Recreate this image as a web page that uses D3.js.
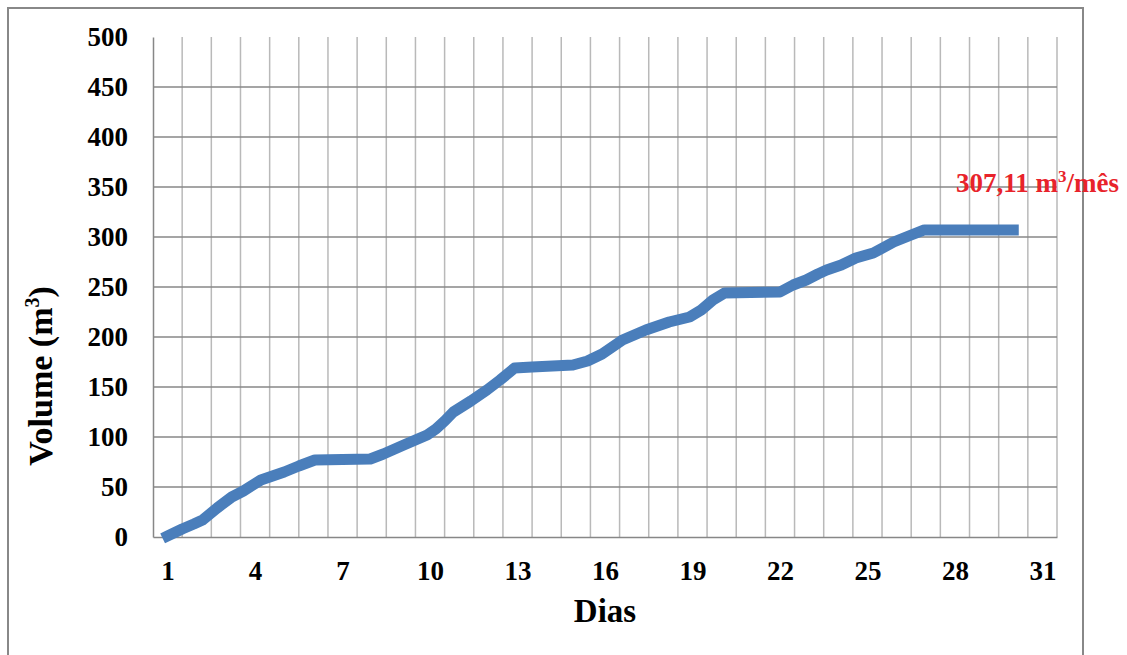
<!DOCTYPE html>
<html>
<head>
<meta charset="utf-8">
<script src="https://cdn.jsdelivr.net/npm/d3@7"></script>
<style>
  html, body { margin: 0; padding: 0; background: #fff; }
  svg { display: block; }
  text { font-family: "Liberation Serif", "Times New Roman", serif; font-weight: bold; }
</style>
</head>
<body>
<svg id="chart" width="1127" height="655"></svg>
<script>
// Day of month (fractional positions along the month) and cumulative volume in m³
const dias = [1, 1.5, 1.9, 2.2, 2.7, 3.2, 3.6, 4.2, 4.6, 5.0, 5.5, 6.05, 7.0, 7.95,
  8.4, 9.1, 9.9, 10.2, 10.5, 10.8, 11.4, 11.95, 12.4, 12.9, 13.5, 14.9, 15.4, 15.9,
  16.6, 17.4, 18.2, 18.9, 19.3, 19.7, 20.1, 21.0, 22.0, 22.45, 22.9, 23.3, 23.6,
  24.1, 24.6, 25.2, 25.9, 26.5, 26.95, 28, 30];
const volume = [1, 8, 13, 17, 29, 40, 46, 57, 61, 65, 71, 77, 77.5, 78,
  83, 92, 102, 108, 116, 125, 136, 147, 157, 169, 170, 172, 176, 183,
  197, 207, 215, 220, 227, 237, 244, 244.5, 245, 252, 257, 263, 267,
  272, 279, 284, 295, 302, 307.11, 307.11, 307.11];

const xTickLabels = [1, 4, 7, 10, 13, 16, 19, 22, 25, 28, 31];
const yTickLabels = [0, 50, 100, 150, 200, 250, 300, 350, 400, 450, 500];
const totalLabel = "307,11";
const totalValue = 307.11;

const svg = d3.select("#chart");
const plot = { left: 153, right: 1057, top: 37, bottom: 537 };

// One category slot per day, 31 days
const x = d3.scaleLinear().domain([0.5, 31.5]).range([plot.left, plot.right]);
const y = d3.scaleLinear().domain([0, 500]).range([plot.bottom, plot.top]);

// Outer chart border
svg.append("rect")
  .attr("x", 8).attr("y", 8)
  .attr("width", 1075).attr("height", 700)
  .attr("fill", "none").attr("stroke", "#888").attr("stroke-width", 2);

// Vertical gridlines between day categories
const dayBounds = d3.range(1, 32).map(d => d + 0.5);
svg.append("g").selectAll("line").data(dayBounds).join("line")
  .attr("x1", d => x(d)).attr("x2", d => x(d))
  .attr("y1", plot.top).attr("y2", plot.bottom)
  .attr("stroke", "#b9b9b9").attr("stroke-width", 1.5);

// Horizontal gridlines
svg.append("g").selectAll("line").data(yTickLabels.filter(v => v > 0 && v < 500)).join("line")
  .attr("x1", plot.left).attr("x2", plot.right)
  .attr("y1", d => y(d)).attr("y2", d => y(d))
  .attr("stroke", "#878787").attr("stroke-width", 1.5);

// Axes
const yAxis = d3.axisLeft(y).tickValues(yTickLabels).tickSize(0).tickPadding(25);
const gy = svg.append("g").attr("transform", `translate(${plot.left},0)`).call(yAxis);
gy.select(".domain").attr("stroke", "#878787").attr("stroke-width", 1.5);
gy.selectAll("text").attr("font-size", 27).attr("fill", "#000")
  .style("font-family", '"Liberation Serif", serif').style("font-weight", "bold");

const xAxis = d3.axisBottom(x).tickValues(xTickLabels).tickSize(0).tickPadding(24);
const gx = svg.append("g").attr("transform", `translate(0,${plot.bottom})`).call(xAxis);
gx.select(".domain").attr("stroke", "#878787").attr("stroke-width", 1.5);
gx.selectAll("text").attr("font-size", 27).attr("fill", "#000")
  .style("font-family", '"Liberation Serif", serif').style("font-weight", "bold");

// Cumulative volume line
const pts = dias.map((d, i) => [d, volume[i]]);
svg.append("path")
  .datum(pts)
  .attr("fill", "none")
  .attr("stroke", "#4a7ebb")
  .attr("stroke-width", 11)
  .attr("stroke-linecap", "square")
  .attr("stroke-linejoin", "round")
  .attr("d", d3.line().x(d => x(d[0])).y(d => y(d[1])));

// Axis titles
svg.append("text")
  .attr("x", (plot.left + plot.right) / 2).attr("y", 622)
  .attr("text-anchor", "middle").attr("font-size", 33).attr("fill", "#000")
  .text("Dias");

const yt = svg.append("text")
  .attr("transform", "translate(52,376) rotate(-90)")
  .attr("text-anchor", "middle").attr("font-size", 34).attr("fill", "#000");
yt.append("tspan").text("Volume (m");
yt.append("tspan").attr("font-size", 20).attr("dy", -13).text("3");
yt.append("tspan").attr("dy", 13).text(")");

// Monthly total annotation
const ann = svg.append("text")
  .attr("x", 956).attr("y", y(totalValue) - 38)
  .attr("font-size", 27).attr("fill", "#e8232b");
ann.append("tspan").text(totalLabel + " m");
ann.append("tspan").attr("font-size", 17).attr("dy", -10).text("3");
ann.append("tspan").attr("dy", 10).text("/mês");
</script>
</body>
</html>
